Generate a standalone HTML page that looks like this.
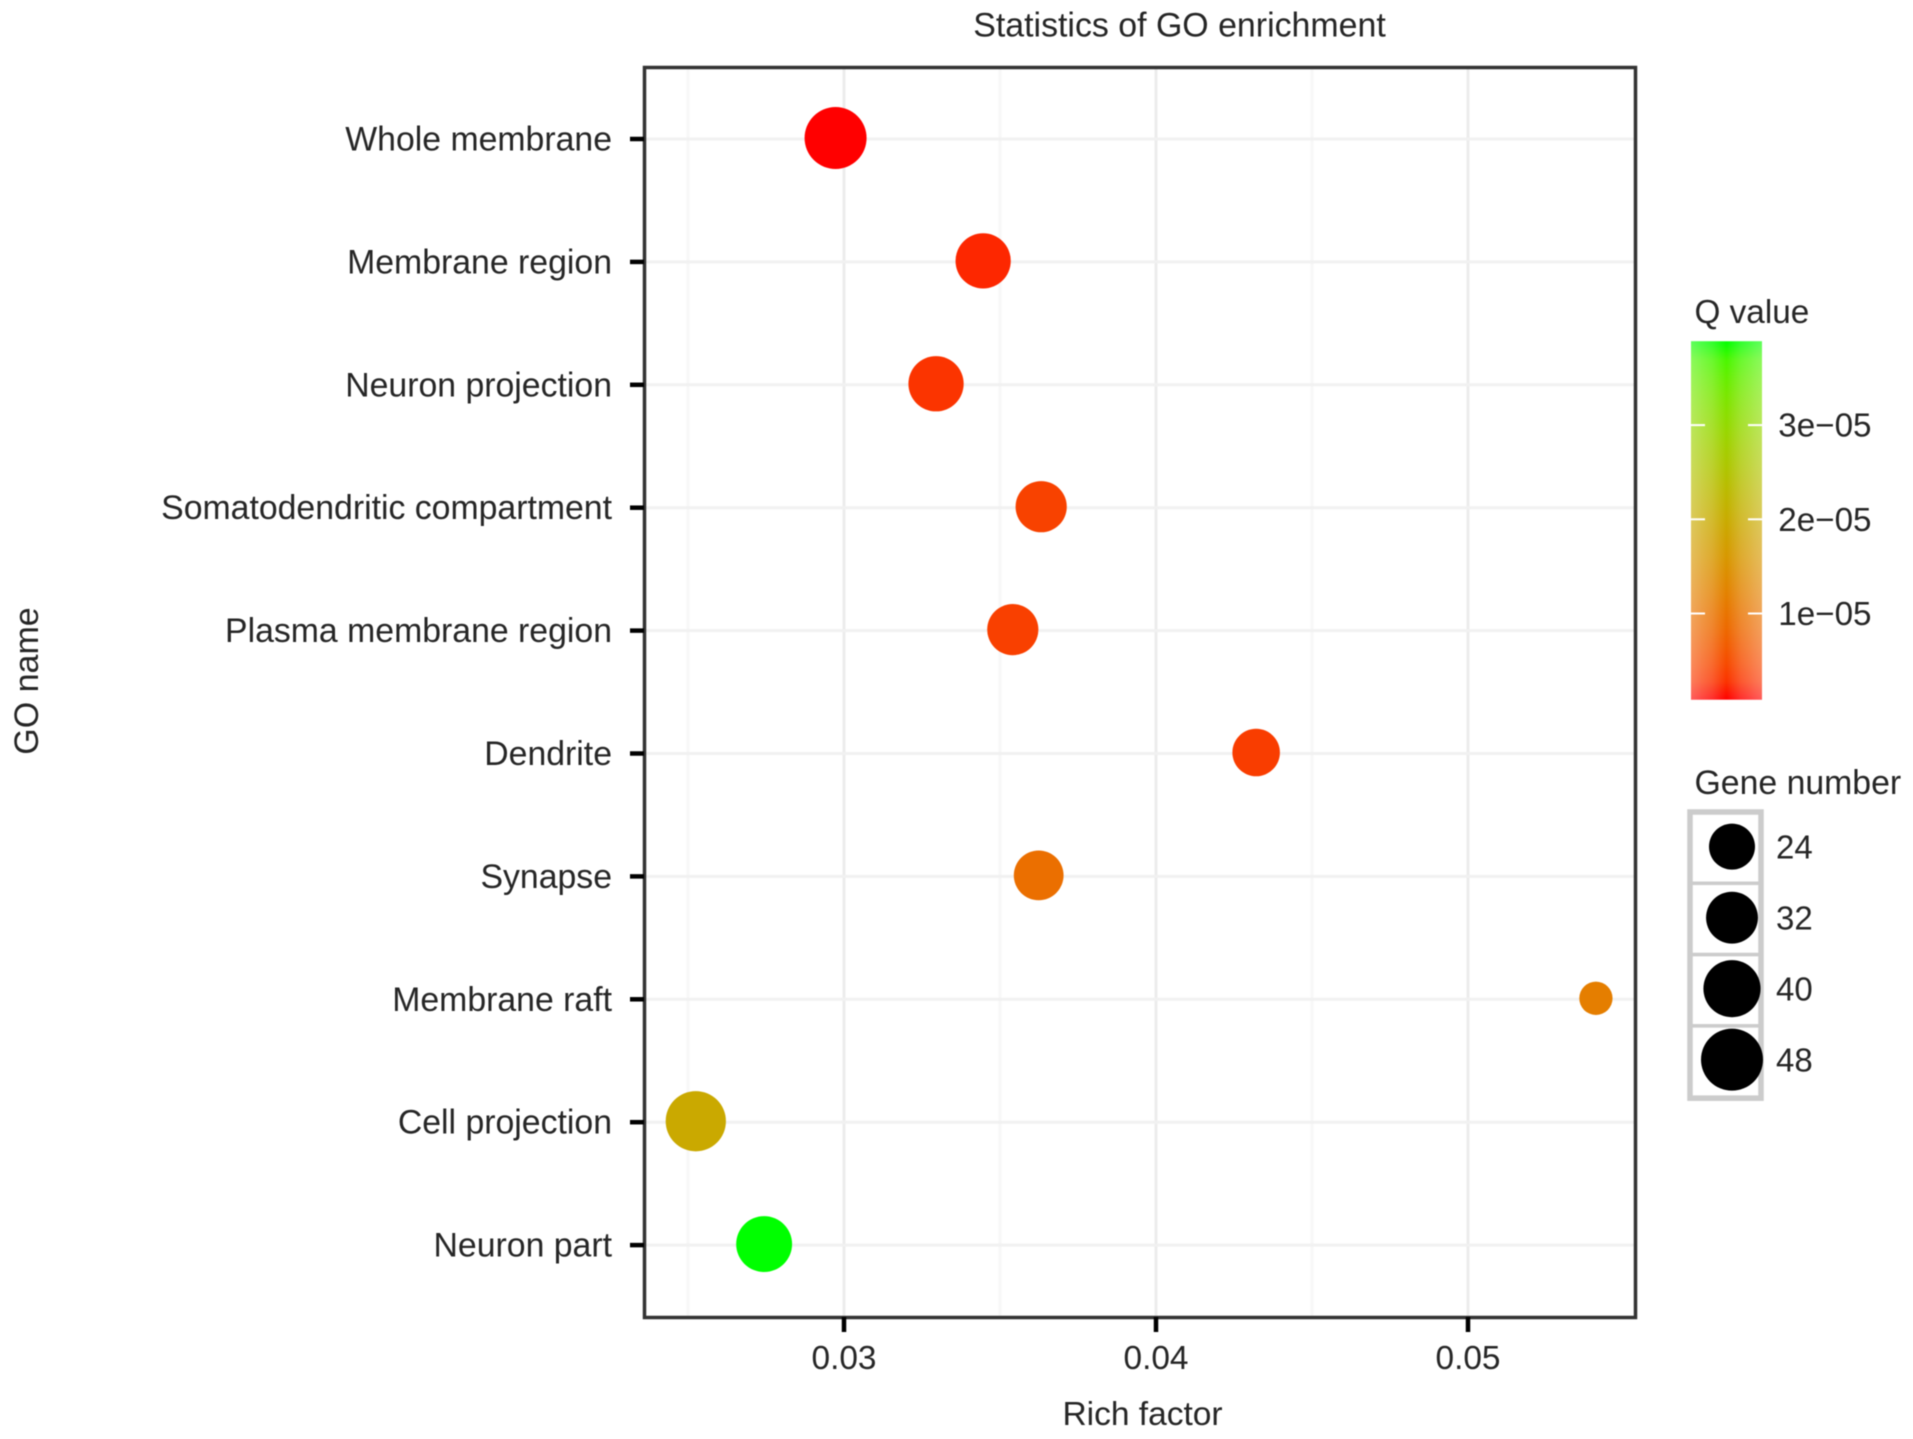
<!DOCTYPE html>
<html lang="en">
<head>
<meta charset="utf-8">
<title>Statistics of GO enrichment</title>
<style>
  html, body { margin: 0; padding: 0; background: #fff; }
  body { width: 1913px; height: 1439px; overflow: hidden; }
  svg { display: block; filter: blur(0.6px); }
  text { font-family: "Liberation Sans", sans-serif; fill: #262626; }
</style>
</head>
<body>
<svg id="chart" xmlns="http://www.w3.org/2000/svg" width="1913" height="1439" viewBox="0 0 1913 1439">
  <defs>
    <linearGradient id="q-gradient" x1="0" y1="0" x2="0" y2="1"></linearGradient>
    <linearGradient id="bar-sheen" x1="0" y1="0" x2="1" y2="0">
      <stop offset="0" stop-color="#fff" stop-opacity="0.36"/>
      <stop offset="0.3" stop-color="#fff" stop-opacity="0.18"/>
      <stop offset="0.5" stop-color="#fff" stop-opacity="0"/>
      <stop offset="0.7" stop-color="#fff" stop-opacity="0.18"/>
      <stop offset="1" stop-color="#fff" stop-opacity="0.36"/>
    </linearGradient>
  </defs>
  <rect x="0" y="0" width="1913" height="1439" fill="#fff"/>
  <text x="1179.5" y="36.5" font-size="33.9" text-anchor="middle">Statistics of GO enrichment</text>
  <text x="1142.5" y="1425" font-size="33.5" text-anchor="middle">Rich factor</text>
  <text x="38" y="681" font-size="34" text-anchor="middle" transform="rotate(-90 38 681)">GO name</text>
  <text x="1694.5" y="323" font-size="33.3">Q value</text>
  <text x="1694.5" y="794" font-size="33.8">Gene number</text>
  <g id="grid"></g>
  <g id="points"></g>
  <rect x="644.5" y="67.5" width="991" height="1250" fill="none" stroke="#333" stroke-width="3.5"/>
  <g id="axes"></g>
  <g id="q-legend"></g>
  <g id="size-legend"></g>
</svg>
<script>
// ---- data ----
const categories = ["Whole membrane", "Membrane region", "Neuron projection", "Somatodendritic compartment", "Plasma membrane region", "Dendrite", "Synapse", "Membrane raft", "Cell projection", "Neuron part"];
const richFactor = [0.02973, 0.03446, 0.03295, 0.03632, 0.03541, 0.04321, 0.03624, 0.0541, 0.02525, 0.02744];
const qValue = [8.5e-7, 2.0e-6, 2.8e-6, 3.9e-6, 3.7e-6, 3.5e-6, 9.2e-6, 1.15e-5, 1.95e-5, 3.89e-5];
const geneNumber = [48, 37, 37, 31, 31, 26, 29, 10, 45, 38];
const xTicks = [0.03, 0.04, 0.05];
const xTickLabels = ["0.03", "0.04", "0.05"];
const xMinorGrid = [0.025, 0.035, 0.045];
const qTicks = [1e-5, 2e-5, 3e-5];
const qTickLabels = ["1e\u221205", "2e\u221205", "3e\u221205"];
const sizeKeys = [24, 32, 40, 48];
const qDomain = [8.5e-7, 3.89e-5];

// ---- axis functions ----
const xScale = v => 844 + (v - 0.03) * 31200;
const yScale = i => 139 + i * 122.9;
const rScale = g => Math.sqrt(529 + 18 * (g - 24));
const qBarY = q => 613.5 - (q - 1e-5) * 9420000;

// ---- Lab colour ramp red -> green ----
function rgb2lab(c) {
  const l = c.map(v => { v /= 255; return v > 0.04045 ? Math.pow((v + 0.055) / 1.055, 2.4) : v / 12.92; });
  const X = (0.4124 * l[0] + 0.3576 * l[1] + 0.1805 * l[2]) / 0.95047;
  const Y = 0.2126 * l[0] + 0.7152 * l[1] + 0.0722 * l[2];
  const Z = (0.0193 * l[0] + 0.1192 * l[1] + 0.9505 * l[2]) / 1.08883;
  const f = t => t > 0.008856 ? Math.cbrt(t) : 7.787 * t + 16 / 116;
  return [116 * f(Y) - 16, 500 * (f(X) - f(Y)), 200 * (f(Y) - f(Z))];
}
function lab2rgb(L) {
  const fy = (L[0] + 16) / 116, fx = L[1] / 500 + fy, fz = fy - L[2] / 200;
  const g = t => t * t * t > 0.008856 ? t * t * t : (t - 16 / 116) / 7.787;
  const X = g(fx) * 0.95047, Y = g(fy), Z = g(fz) * 1.08883;
  const lin = [3.2406 * X - 1.5372 * Y - 0.4986 * Z, -0.9689 * X + 1.8758 * Y + 0.0415 * Z, 0.0557 * X - 0.204 * Y + 1.057 * Z];
  return lin.map(v => {
    v = Math.max(0, Math.min(1, v));
    v = v > 0.0031308 ? 1.055 * Math.pow(v, 1 / 2.4) - 0.055 : 12.92 * v;
    return Math.round(v * 255);
  });
}
const labLow = rgb2lab([255, 0, 0]);
const labHigh = rgb2lab([0, 255, 0]);
function qColor(q) {
  const t = Math.max(0, Math.min(1, (q - qDomain[0]) / (qDomain[1] - qDomain[0])));
  const c = lab2rgb(labLow.map((v, k) => v + (labHigh[k] - v) * t));
  return "rgb(" + c.join(",") + ")";
}

// ---- drawing ----
const NS = "http://www.w3.org/2000/svg";
function make(tag, parent, attrs, txt) {
  const el = document.createElementNS(NS, tag);
  Object.keys(attrs).forEach(k => el.setAttribute(k, attrs[k]));
  if (txt !== undefined) el.textContent = txt;
  parent.appendChild(el);
  return el;
}
const grid = document.getElementById("grid");
const axes = document.getElementById("axes");
const points = document.getElementById("points");
const qLegend = document.getElementById("q-legend");
const sizeLegend = document.getElementById("size-legend");
const panelTop = 67, panelBottom = 1317, panelLeft = 644, panelRight = 1636;

xMinorGrid.forEach(v => {
  const el = make("line", grid, { x1: xScale(v), x2: xScale(v), y1: panelTop, y2: panelBottom, stroke: "#f7f7f7", "stroke-width": 3 });
  
  
});
xTicks.forEach(v => {
  const el = make("line", grid, { x1: xScale(v), x2: xScale(v), y1: panelTop, y2: panelBottom, stroke: "#ececec", "stroke-width": 3 });
  
  
});
categories.forEach((c, i) => {
  const el = make("line", grid, { x1: panelLeft, x2: panelRight, y1: yScale(i), y2: yScale(i), stroke: "#f1f1f1", "stroke-width": 3 });
  
  
});

categories.forEach((c, i) => {
  const tick = make("line", axes, { x1: 630, x2: 644, y1: yScale(i), y2: yScale(i), stroke: "#000", "stroke-width": 4.5 });
  
  
  const label = make("text", axes, { x: 612, y: yScale(i) + 11.5, "font-size": 33.8, "text-anchor": "end" }, c);
  
  

  const dot = make("circle", points, { cx: xScale(richFactor[i]), cy: yScale(i) - 1, r: rScale(geneNumber[i]), fill: qColor(qValue[i]) });
  
  
});
xTicks.forEach((v, i) => {
  const tick = make("line", axes, { x1: xScale(v), x2: xScale(v), y1: panelBottom, y2: 1332, stroke: "#000", "stroke-width": 4.5 });
  
  
  const label = make("text", axes, { x: xScale(v), y: 1369, "font-size": 33.4, "text-anchor": "middle" }, xTickLabels[i]);
  
  
});

// colour bar
const grad = document.getElementById("q-gradient");
for (let k = 0; k <= 20; k++) {
  make("stop", grad, { offset: k / 20, "stop-color": qColor(qDomain[1] - (qDomain[1] - qDomain[0]) * k / 20) });
}
const barX = 1691, barW = 71, barTop = qBarY(qDomain[1]), barH = qBarY(qDomain[0]) - barTop;
const bar = make("rect", qLegend, { x: barX, y: barTop, width: barW, height: barH, fill: "url(#q-gradient)" });


const sheen = make("rect", qLegend, { x: barX, y: barTop, width: barW, height: barH, fill: "url(#bar-sheen)" });


qTicks.forEach((q, i) => {
  const y = qBarY(q);
  const a = make("line", qLegend, { x1: barX, x2: barX + 14, y1: y, y2: y, stroke: "#fff", "stroke-width": 2 });
  
  
  const b = make("line", qLegend, { x1: barX + barW - 14, x2: barX + barW, y1: y, y2: y, stroke: "#fff", "stroke-width": 2 });
  
  
  const t = make("text", qLegend, { x: 1871.5, y: y + 11.5, "font-size": 33.2, "text-anchor": "end" }, qTickLabels[i]);
  
  
});

// size legend
const keyTop = 812, keyStep = 71.3, dotStep = 71, keyX = 1690, keyW = 71;
sizeKeys.forEach((g, i) => {
  const y = keyTop + i * keyStep;
  const box = make("rect", sizeLegend, { x: keyX, y: y, width: keyW, height: keyStep, fill: "#fff", stroke: "#ccc", "stroke-width": 3.5 });
  
  
});
const keyFrame = make("rect", sizeLegend, { x: keyX, y: keyTop, width: keyW, height: keyStep * sizeKeys.length + 1, fill: "none", stroke: "#ccc", "stroke-width": 5.5 });


sizeKeys.forEach((g, i) => {
  const y = keyTop + i * dotStep + keyStep / 2;
  const dot = make("circle", sizeLegend, { cx: 1732, cy: y - 1, r: rScale(g), fill: "#000" });
  
  
  const t = make("text", sizeLegend, { x: 1776, y: y + 11, "font-size": 33 }, String(g));
  
  
});
</script>
</body>
</html>
